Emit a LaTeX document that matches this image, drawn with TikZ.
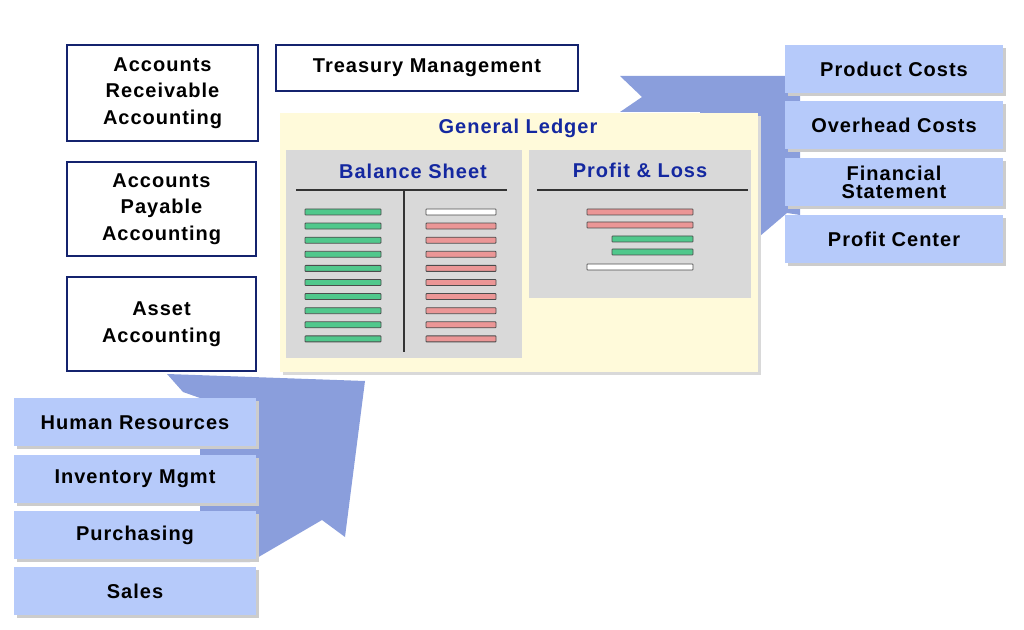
\documentclass[tikz,border=0pt]{standalone}
\usepackage{fontspec}
\setmainfont{Liberation Sans}[LetterSpace=5]
\begin{document}
\begin{tikzpicture}[x=0.75pt,y=-0.75pt,
  font=\bfseries\fontsize{15}{20}\selectfont,
  navy/.style={draw=navyc,line width=2pt,fill=white,align=center,inner sep=0pt},
  lblue/.style={fill=lbc,align=center,inner sep=0pt},
  bar/.style={draw=black!70,line width=0.6pt,rounded corners=0.5pt},
  gbar/.style={bar,fill=greenc},
  pbar/.style={bar,fill=pinkc},
  wbar/.style={bar,fill=white}]
\definecolor{navyc}{RGB}{20,35,110}
\definecolor{lbc}{RGB}{182,202,250}
\definecolor{arrc}{RGB}{138,158,220}
\definecolor{greenc}{RGB}{80,200,140}
\definecolor{pinkc}{RGB}{235,150,150}
\definecolor{ledc}{RGB}{255,250,218}
\definecolor{titc}{RGB}{20,40,160}
\useasboundingbox (0,0) rectangle (1024,630);
% arrows
\fill[arrc] (167,374)--(365,381)--(345,537)--(322,520)--(250,562)--(200,562)--(200,398)--(183,392)--cycle;
\fill[arrc] (620,76)--(800,76)--(800,215)--(787,213)--(760,236)--(700,236)--(700,112)--(620,112)--(642,97)--cycle;
% ledger
\fill[black!15] (283,116) rectangle (761,375);
\node[fill=ledc,minimum width=478*0.75pt,minimum height=259*0.75pt,inner sep=0pt] (gl) at (519,242.5) {};
\node[text=titc] (glt) at (518,128) {General Ledger};
\node[fill=black!15,minimum width=236*0.75pt,minimum height=208*0.75pt,inner sep=0pt] (bs) at (404,254) {};
\node[fill=black!15,minimum width=222*0.75pt,minimum height=148*0.75pt,inner sep=0pt] (pl) at (640,224) {};
\node[text=titc] (bst) at (413,171) {Balance Sheet};
\node[text=titc] (plt) at (640,170) {Profit \& Loss};
\draw[black!80,line width=0.8pt] (296,190)--(507,190) (404,190)--(404,352) (537,190)--(748,190);
\foreach \i in {0,...,9}{
  \draw[gbar] (305,{209+\i*14.1}) rectangle (381,{215+\i*14.1});
}
\draw[wbar] (426,209) rectangle (496,215);
\foreach \i in {1,...,9}{
  \draw[pbar] (426,{209+\i*14.1}) rectangle (496,{215+\i*14.1});
}
\draw[pbar] (587,209) rectangle (693,215);
\draw[pbar] (587,222) rectangle (693,228);
\draw[gbar] (612,236) rectangle (693,242);
\draw[gbar] (612,249) rectangle (693,255);
\draw[wbar] (587,264) rectangle (693,270);
% left navy boxes
\node[navy,minimum width=191*0.75pt,minimum height=96*0.75pt] (ar) at (162.5,93) {Accounts\\Receivable\\Accounting};
\node[navy,minimum width=189*0.75pt,minimum height=94*0.75pt] (ap) at (161.5,209) {Accounts\\Payable\\Accounting};
\node[navy,minimum width=189*0.75pt,minimum height=94*0.75pt] (aa) at (161.5,324) {Asset\\Accounting};
\node[navy,minimum width=302*0.75pt,minimum height=46*0.75pt] (tm) at (427,68) {Treasury Management};
% right boxes
\foreach \n/\y/\t in {pc/69/Product Costs,oc/125.5/Overhead Costs,fs/182.5/{Financial\\[-6pt]Statement},pr/239/Profit Center}{
  \fill[black!20] (788,{\y-21}) rectangle (1006,{\y+27});
  \node[lblue,minimum width=218*0.75pt,minimum height=48*0.75pt] (\n) at (894,\y) {\t};
}
% bottom-left boxes
\foreach \n/\y/\t in {hr/422.5/Human Resources,im/479/Inventory Mgmt,pu/535/Purchasing,sa/591/Sales}{
  \fill[black!20] (17,{\y-21}) rectangle (259,{\y+27});
  \node[lblue,minimum width=242*0.75pt,minimum height=48*0.75pt] (\n) at (135,\y) {\t};
}
\end{tikzpicture}
\end{document}
